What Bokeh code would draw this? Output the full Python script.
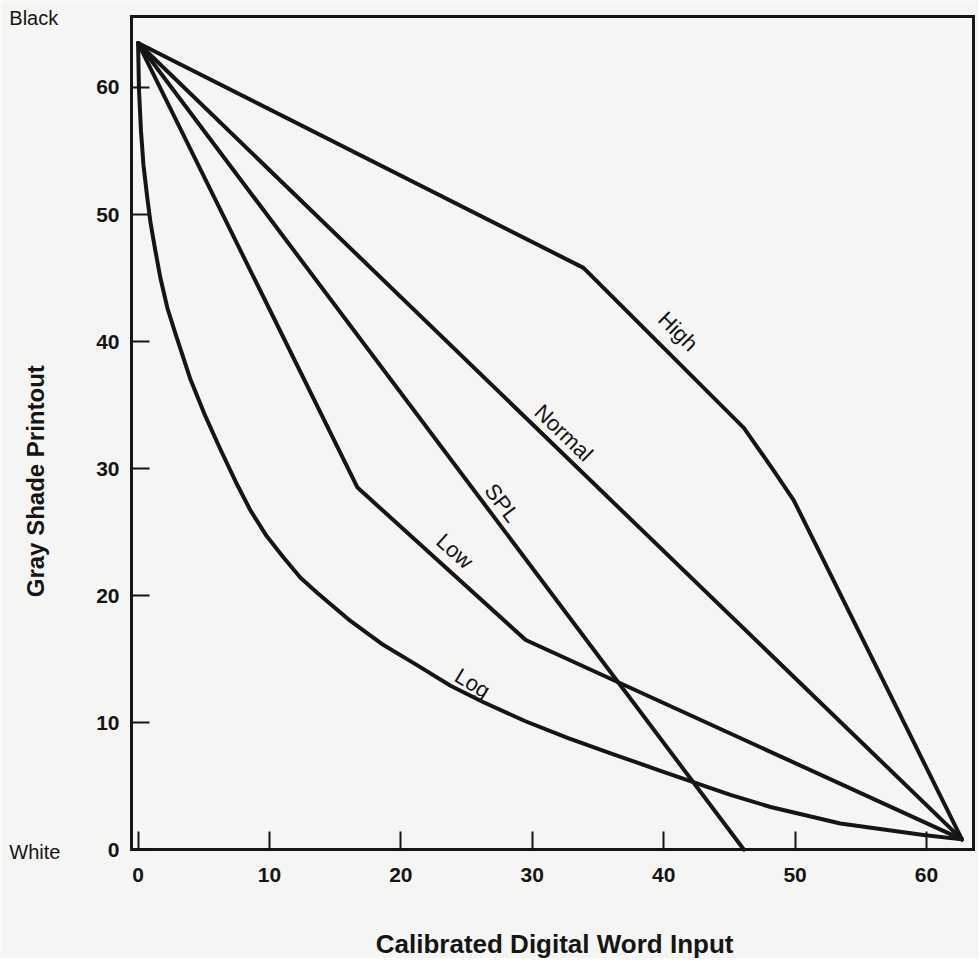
import math
from bokeh.plotting import figure
from bokeh.models import Range1d, FixedTicker, Label, LinearAxis
from bokeh.embed import file_html
from bokeh.resources import INLINE

# ---- data ----
x_ticks = [0, 10, 20, 30, 40, 50, 60]
y_ticks = [0, 10, 20, 30, 40, 50, 60]

high_x = [0, 33.9, 46.1, 48.4, 49.9, 62.7]
high_y = [63.5, 45.8, 33.2, 29.8, 27.5, 0.8]

normal_x = [0, 62.7]
normal_y = [63.5, 0.8]

spl_x = [0, 46.1]
spl_y = [63.5, 0.0]

low_x = [0, 16.7, 29.5, 62.7]
low_y = [63.5, 28.5, 16.5, 0.8]

log_x = [0, 0.07, 0.22, 0.41, 0.68, 0.94, 1.29, 1.70, 2.24, 2.85, 3.99, 5.13,
         6.27, 7.41, 8.55, 9.77, 11.07, 12.36, 13.65, 16.16, 18.68, 21.26, 23.78,
         26.29, 29.48, 32.68, 36.18, 39.76, 45.08, 48.13, 53.45, 59.77, 62.7]
log_y = [63.5, 59.8, 56.6, 53.9, 51.5, 49.4, 47.3, 45.0, 42.6, 40.6, 37.0, 34.1,
         31.5, 29.0, 26.7, 24.7, 23.0, 21.4, 20.2, 18.0, 16.1, 14.5, 12.9,
         11.6, 10.1, 8.8, 7.5, 6.2, 4.3, 3.35, 2.05, 1.15, 0.8]

curve_names = ["High", "Normal", "SPL", "Low", "Log"]
label_x = [41.1, 32.4, 27.7, 24.1, 25.45]
label_y = [40.8, 32.8, 27.3, 23.5, 13.1]
label_angle_deg = [-45, -44, -53, -42, -31]

x_title = "Calibrated Digital Word Input"
y_title = "Gray Shade Printout"
top_word = "Black"
bottom_word = "White"

# plotted box (axis extents)
X_MIN, X_MAX = -0.5, 63.6
Y_MIN, Y_MAX = 0.0, 65.6

# ---- styling ----
INK = "#151515"
BG = "#f5f5f4"
FONT = "Liberation Sans"

p = figure(
    width=978, height=958,
    min_border_left=0, min_border_right=0, min_border_top=0, min_border_bottom=0,
    x_range=Range1d(-10.47, 63.96), y_range=Range1d(-8.58, 66.85),
    output_backend="svg", toolbar_location=None,
    background_fill_color=BG, border_fill_color=BG,
)
p.grid.visible = False
p.outline_line_color = None


def style_axis(ax, ticks):
    ax.ticker = FixedTicker(ticks=ticks)
    ax.axis_line_color = INK
    ax.axis_line_width = 3
    ax.axis_line_cap = "square"
    ax.major_tick_line_color = INK
    ax.major_tick_line_width = 2
    ax.major_tick_in = 18
    ax.major_tick_out = 0
    ax.minor_tick_line_color = None
    ax.major_label_text_font = FONT
    ax.major_label_text_font_style = "bold"
    ax.major_label_text_font_size = "21px"
    ax.major_label_text_color = INK


xax = p.xaxis[0]
yax = p.yaxis[0]
style_axis(xax, x_ticks)
style_axis(yax, y_ticks)
xax.fixed_location = Y_MIN
xax.bounds = (X_MIN, X_MAX)
yax.fixed_location = X_MIN
yax.bounds = (Y_MIN, Y_MAX)
xax.major_label_standoff = 18
yax.major_label_standoff = 12

# top and right edges of the box
top_ax = LinearAxis(fixed_location=Y_MAX, bounds=(X_MIN, X_MAX))
right_ax = LinearAxis(fixed_location=X_MAX, bounds=(Y_MIN, Y_MAX))
for ax in (top_ax, right_ax):
    style_axis(ax, [])
p.add_layout(top_ax, "above")
p.add_layout(right_ax, "right")

for xs, ys in [(high_x, high_y), (normal_x, normal_y), (spl_x, spl_y),
               (low_x, low_y), (log_x, log_y)]:
    p.line(xs, ys, line_color=INK, line_width=4, line_join="round", line_cap="round")

for name, lx, ly, ang in zip(curve_names, label_x, label_y, label_angle_deg):
    p.add_layout(Label(x=lx, y=ly, text=name, angle=math.radians(ang),
                       text_align="center", text_baseline="middle",
                       text_font=FONT, text_font_size="22px", text_color=INK))

p.add_layout(Label(x=-9.8, y=65.5, text=top_word, text_align="left",
                   text_baseline="middle", text_font=FONT, text_font_size="20px",
                   text_color=INK))
p.add_layout(Label(x=-9.8, y=-0.16, text=bottom_word, text_align="left",
                   text_baseline="middle", text_font=FONT, text_font_size="20px",
                   text_color=INK))
p.add_layout(Label(x=-7.8, y=29.0, text=y_title, angle=math.pi / 2,
                   text_align="center", text_baseline="middle",
                   text_font=FONT, text_font_style="bold", text_font_size="24px",
                   text_color=INK))
p.add_layout(Label(x=31.7, y=-7.4, text=x_title,
                   text_align="center", text_baseline="middle",
                   text_font=FONT, text_font_style="bold", text_font_size="26px",
                   text_color=INK))

open("out.html", "w").write(file_html(p, INLINE))
